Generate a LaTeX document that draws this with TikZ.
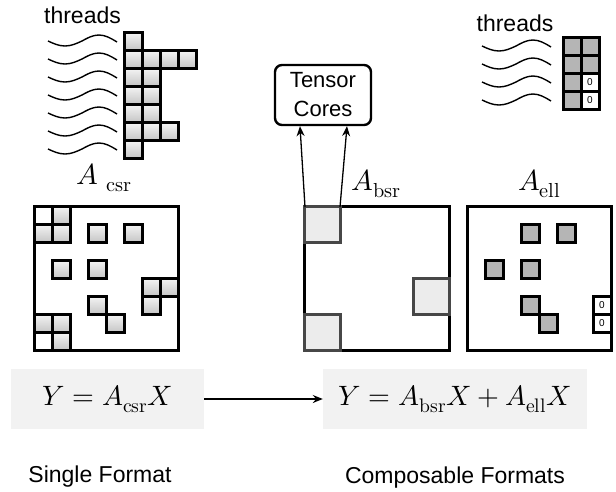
\documentclass[tikz,border=0pt]{standalone}
\usepackage{unicode-math}
\setmathfont{Latin Modern Math}
\newfontfamily\labelsans{Liberation Sans}
\usetikzlibrary{arrows.meta,calc}

\tikzset{
  gcell/.style={draw=black, line width=3pt, top color=gray!8, bottom color=gray!45},
  ecell/.style={draw=black, line width=3pt, fill=white},
  scell/.style={draw=black, line width=3pt, fill=gray!58},
  bblock/.style={draw=black!72, line width=3pt, fill=gray!15},
  matbox/.style={draw=black, line width=3pt},
  wave/.style={line width=1.4pt},
  sanstext/.style={font=\labelsans\fontsize{23}{26}\selectfont, inner sep=0pt},
  mathlabel/.style={font=\fontsize{29}{33}\selectfont, inner sep=0pt},
  eqbox/.style={fill=gray!10, minimum width=193pt, minimum height=60pt, inner sep=0pt,
                font=\fontsize{28}{33}\selectfont},
  tcbox/.style={draw=black, line width=2.4pt, rounded corners=7pt, minimum width=96pt,
                minimum height=60pt, align=center, inner sep=0pt,
                font=\labelsans\fontsize{22}{29}\selectfont},
  zerotext/.style={font=\labelsans\fontsize{10}{12}\selectfont, inner sep=0pt},
  conn/.style={line width=1.3pt, -{Stealth[length=10pt,width=8pt]}},
}

% a cell of side 18 with its top-left corner at (#1,#2)
\newcommand{\gridcell}[3]{\path[#3] ({#1},{#2}) rectangle ++(18,18);}
% one wavy thread line starting at (#1,#2)
\newcommand{\threadwave}[2]{\draw[wave] ({#1},{#2}) sin ++(17,5) cos ++(17,-5) sin ++(17,-6) cos ++(18,7);}

\begin{document}
\begin{tikzpicture}[x=1pt,y=-1pt]
\useasboundingbox (0,0) rectangle (616,491);

% ---------- single format (CSR) ----------
\node[sanstext] (thrL) at (82.5,15) {threads};
\foreach \r in {0,...,6} { \threadwave{48}{41+18*\r} }
% row lengths of the per-thread CSR rows
\foreach \r/\n in {0/1,1/4,2/2,3/2,4/2,5/3,6/1} {
  \foreach \c in {1,...,\n} {
    \gridcell{124+18*(\c-1)}{32+18*\r}{gcell}
  }
}
\node[mathlabel] (lblcsr) at (104.5,178) {$A\;_{\symup{csr}}$};

\path[matbox] (34,206) rectangle (178,350);
\foreach \c/\r in {1/0,0/1,1/1,3/1,5/1,1/3,3/3,6/4,7/4,3/5,6/5,0/6,1/6,4/6,1/7} {
  \gridcell{34+18*\c}{206+18*\r}{gcell}
}
\foreach \c/\r in {0/0,0/7} { \gridcell{34+18*\c}{206+18*\r}{ecell} }

% ---------- composable formats (BSR + ELL) ----------
\node[tcbox] (tc) at (323,95) {Tensor\\Cores};
\node[mathlabel] (lblbsr) at (376.5,184) {$A_{\symup{bsr}}$};

\path[matbox] (304,206) rectangle (449,350);
\path[bblock] (304,206) rectangle (340,242);
\path[bblock] (413,278) rectangle (449,314);
\path[bblock] (304,314) rectangle (340,350);
\coordinate (blkL) at (305,207);
\coordinate (blkR) at (340,207);
\draw[conn] (blkL) -- ([xshift=-23pt]tc.south);
\draw[conn] (blkR) -- ([xshift=24pt]tc.south);

% ELL threads
\node[sanstext] (thrR) at (515,23) {threads};
\foreach \r in {0,...,3} { \threadwave{482}{46+18*\r} }
\foreach \r in {0,...,3} { \gridcell{563}{37+18*\r}{scell} }
\foreach \r in {0,1} { \gridcell{581}{37+18*\r}{scell} }
\foreach \r in {2,3} {
  \gridcell{581}{37+18*\r}{ecell}
  \node[zerotext] (zt\r) at ({590},{46+18*\r}) {0};
}

\node[mathlabel] (lblell) at (539.5,184) {$A_{\symup{ell}}$};
\path[matbox] (467,206) rectangle (611,350);
\foreach \c/\r in {3/1,5/1,1/3,3/3,3/5,4/6} {
  \gridcell{467+18*\c}{206+18*\r}{scell}
}
\foreach \r in {5,6} {
  \gridcell{593}{206+18*\r}{ecell}
  \node[zerotext] (ze\r) at ({602},{215+18*\r}) {0};
}

% ---------- equations ----------
\node[eqbox] (eqL) at (107.5,399) {$Y=A_{\symup{csr}}X$};
\node[eqbox, minimum width=264pt] (eqR) at (455,399) {$Y=A_{\symup{bsr}}X+A_{\symup{ell}}X$};
\draw[conn] (eqL) -- (eqR);

\node[sanstext] (capL) at (100,477) {Single Format};
\node[sanstext] (capR) at (455,478) {Composable Formats};
\end{tikzpicture}
\end{document}
